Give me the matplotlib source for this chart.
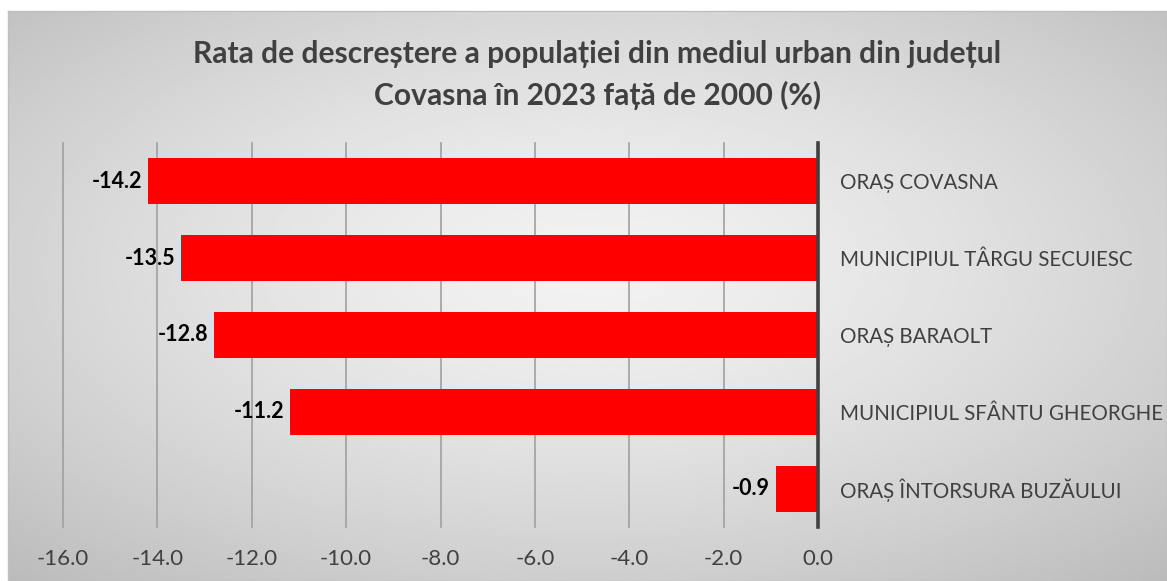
import numpy as np
import matplotlib.pyplot as plt

# --- date ---
localitati = ["ORAȘ COVASNA", "MUNICIPIUL TÂRGU SECUIESC", "ORAȘ BARAOLT",
              "MUNICIPIUL SFÂNTU GHEORGHE", "ORAȘ ÎNTORSURA BUZĂULUI"]
rata = [-14.2, -13.5, -12.8, -11.2, -0.9]
xticks = [-16.0, -14.0, -12.0, -10.0, -8.0, -6.0, -4.0, -2.0, 0.0]

titlu = ("Rata de descreștere a populației din mediul urban din județul\n"
         "Covasna în 2023 față de 2000 (%)")

plt.rcParams["font.family"] = ["Lato", "DejaVu Sans"]

W, H = 1167, 581
fig = plt.figure(figsize=(W / 100, H / 100), dpi=100)
fig.patch.set_facecolor("white")

# fundal cu gradient radial (zona graficului)
bg = fig.add_axes([8 / W, 0, 1 - 8 / W, 1 - 11 / H])
yy, xx = np.mgrid[0:1:300j, 0:1:600j]
r = np.sqrt(((xx - 0.5) / 0.75) ** 2 + ((yy - 0.45) / 0.75) ** 2)
grad = 0.95 - 0.22 * np.clip(r, 0, 1) ** 1.4
bg.imshow(grad, cmap="gray", vmin=0, vmax=1, aspect="auto",
          extent=[0, 1, 0, 1], interpolation="bilinear")
bg.set_xlim(0, 1)
bg.set_ylim(0, 1)
for s in bg.spines.values():
    s.set_color("#bfbfbf")
    s.set_linewidth(1)
bg.set_xticks([])
bg.set_yticks([])

ax = fig.add_axes([63 / W, 1 - 527 / H, (818 - 63) / W, (527 - 143) / H])
ax.patch.set_alpha(0)

y = np.arange(len(localitati))
ax.barh(y, rata, height=0.6, color="#ff0000", zorder=3)
ax.set_ylim(len(localitati) - 0.5, -0.5)
ax.set_xlim(-16, 0)

# linii verticale de grilă
for xv in xticks[:-1]:
    ax.axvline(xv, color="#a0a0a0", lw=1.2, zorder=1, clip_on=False)
ax.axvline(0, color="#404040", lw=2.6, zorder=4, clip_on=False)

ax.set_xticks(xticks)
ax.set_xticklabels([f"{v:.1f}" for v in xticks], fontsize=16, color="#404040")
ax.tick_params(axis="x", length=0, pad=16)

ax.yaxis.tick_right()
ax.set_yticks(y)
ax.set_yticklabels(localitati, fontsize=14.8, color="#404040")
ax.tick_params(axis="y", length=0, pad=16)

for s in ax.spines.values():
    s.set_visible(False)

for yi, v in zip(y, rata):
    ax.annotate(f"{v:.1f}", (v, yi), xytext=(-4, 0), textcoords="offset points",
                ha="right", va="center", fontsize=15.5, fontweight="bold",
                color="black", zorder=5)

fig.text(0.512, 1 - 75 / H, titlu, ha="center", va="center", fontsize=21.6,
         fontweight="bold", color="#404040", linespacing=1.55)

fig.savefig("out.png", dpi=100)
